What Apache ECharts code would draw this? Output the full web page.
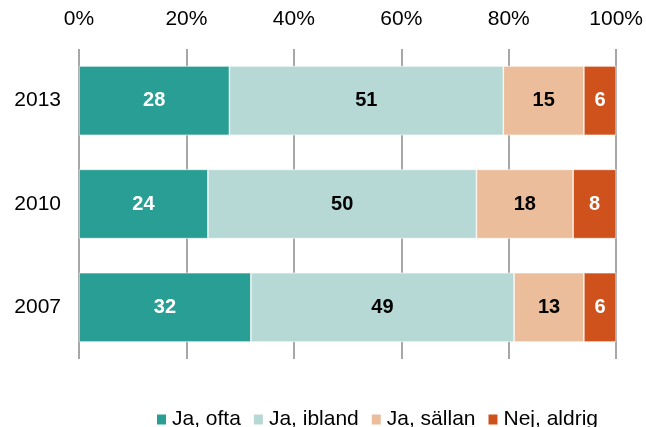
<!DOCTYPE html>
<html>
<head>
<meta charset="utf-8">
<script src="https://cdn.jsdelivr.net/npm/echarts@6/dist/echarts.min.js"></script>
<style>
  html, body { margin: 0; padding: 0; background: #fff; }
  #chart { width: 646px; height: 427px; }
</style>
</head>
<body>
<div id="chart"></div>
<script>
// data
const years = ['2013', '2010', '2007']
const seriesNames = ['Ja, ofta', 'Ja, ibland', 'Ja, sällan', 'Nej, aldrig']
const jaOfta = [28, 24, 32]
const jaIbland = [51, 50, 49]
const jaSallan = [15, 18, 13]
const nejAldrig = [6, 8, 6]
const xTicks = [0, 20, 40, 60, 80, 100]

const colors = ['#289e94', '#b7d9d6', '#ebbd9b', '#cf521c']
const labelColors = ['#fff', '#000', '#000', '#fff']
const values = [jaOfta, jaIbland, jaSallan, nejAldrig]

const font = 'Liberation Sans, Arial, sans-serif'

const chart = echarts.init(document.getElementById('chart'))

const option = {
  animation: false,
  grid: { left: 79, right: 29, top: 49, bottom: 68, containLabel: false },
  xAxis: {
    type: 'value',
    position: 'top',
    min: xTicks[0],
    max: xTicks[xTicks.length - 1],
    interval: 20,
    axisLine: { show: false },
    axisTick: { show: false },
    axisLabel: {
      formatter: '{value}%',
      fontFamily: font,
      fontSize: 21,
      color: '#000',
      margin: 19
    },
    splitLine: { show: true, lineStyle: { color: '#8a8a8a', width: 1.5 } }
  },
  yAxis: {
    type: 'category',
    data: years,
    inverse: true,
    axisLine: { show: false },
    axisTick: { show: false },
    axisLabel: {
      fontFamily: font,
      fontSize: 21,
      color: '#000',
      margin: 18
    }
  },
  legend: {
    data: seriesNames,
    left: 150,
    top: 404,
    icon: 'rect',
    itemWidth: 11,
    itemHeight: 12,
    itemGap: 11,
    textStyle: { fontFamily: font, fontSize: 21, color: '#000' }
  },
  series: seriesNames.map((name, i) => ({
    name: name,
    type: 'bar',
    stack: 'total',
    barWidth: '67%',
    data: values[i],
    itemStyle: { color: colors[i], borderColor: '#fff', borderWidth: 0.6 },
    label: {
      show: true,
      position: 'inside',
      fontFamily: font,
      fontSize: 20,
      fontWeight: 'bold',
      color: labelColors[i]
    }
  }))
}

chart.setOption(option)
</script>
</body>
</html>
